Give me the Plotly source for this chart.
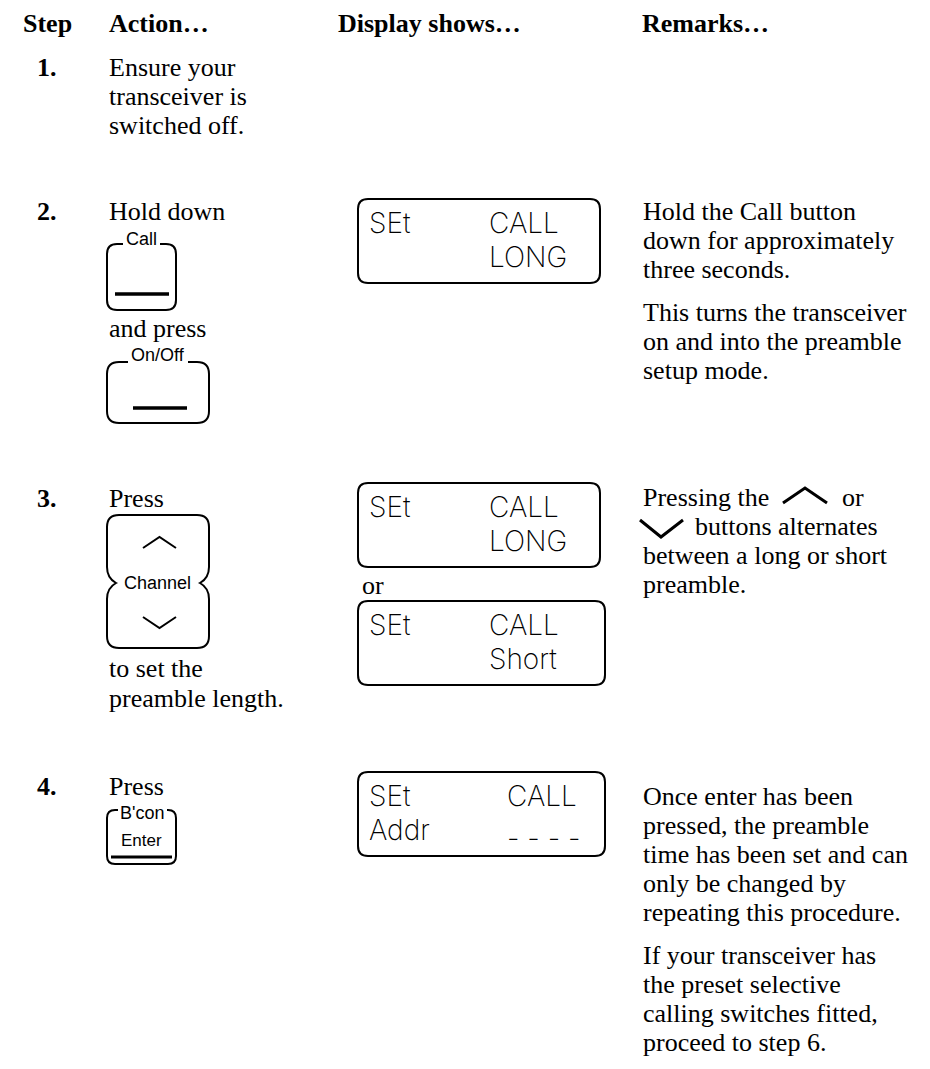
import plotly.graph_objects as go

W, H = 930, 1069
PAD = 8  # browser default body margin

# ---------------- content ----------------
headers = ["Step", "Action…", "Display shows…", "Remarks…"]
header_x = [21, 107, 336, 640]
header_y = 23

step_labels = ["1.", "2.", "3.", "4."]
step_y = [67, 211, 498, 786]

action_text = ["Ensure your", "transceiver is", "switched off.", "Hold down",
               "and press", "Press", "to set the", "preamble length.", "Press"]
action_y = [67, 96, 125, 211, 328, 498, 668, 698, 786]

remark_text = ["Hold the Call button", "down for approximately", "three seconds.",
               "This turns the transceiver", "on and into the preamble", "setup mode.",
               "Pressing the", "or", "buttons alternates", "between a long or short", "preamble.",
               "Once enter has been", "pressed, the preamble", "time has been set and can",
               "only be changed by", "repeating this procedure.",
               "If your transceiver has", "the preset selective",
               "calling switches fitted,", "proceed to step 6."]
remark_x = [641, 641, 641, 641, 641, 641,
            641, 840, 693, 641, 641,
            641, 641, 641, 641, 641,
            641, 641, 641, 641]
remark_y = [211, 240, 269, 312, 341, 370,
            497, 497, 526, 555, 584,
            796, 825, 854, 883, 912,
            955, 984, 1013, 1042]

# LCD displays
lcd_row1_left = ["SEt", "SEt", "SEt", "SEt"]
lcd_row1_right = ["CALL", "CALL", "CALL", "CALL"]
lcd_row2_left = ["", "", "", "Addr"]
lcd_row2_right = ["LONG", "LONG", "Short", "- - - -"]
lcd_top = [199, 483, 601, 772]
lcd_right = [600, 600, 605, 605]
lcd_right_x = [487, 487, 487, 505]

# Button labels
button_labels = ["Call", "On/Off", "Channel", "B'con", "Enter"]

# ---------------- helpers ----------------
BLACK = "#000000"
SERIF = "Liberation Serif"
SANS = "Liberation Sans"
LCD = "Inter"

shapes = []
annotations = []


def text(t, x, y, size=26, family=SERIF, bold=False, anchor="left", weight=None, color=BLACK):
    font = dict(family=family, size=size, color=color)
    if weight:
        font["weight"] = weight
    annotations.append(dict(
        text=(f"<b>{t}</b>" if bold else t), x=x, y=y, xref="x", yref="y",
        xanchor=anchor, yanchor="middle", showarrow=False, font=font))


def path(p, width=2.0):
    shapes.append(dict(type="path", path=p, xref="x", yref="y",
                       line=dict(color=BLACK, width=width)))


def rbox(x0, y0, x1, y1, r, gap=None, width=2.0):
    if gap:
        gl, gr = gap
        p = (f"M {gl},{y0} L {x0 + r},{y0} Q {x0},{y0} {x0},{y0 + r} "
             f"L {x0},{y1 - r} Q {x0},{y1} {x0 + r},{y1} L {x1 - r},{y1} "
             f"Q {x1},{y1} {x1},{y1 - r} L {x1},{y0 + r} Q {x1},{y0} {x1 - r},{y0} "
             f"L {gr},{y0}")
    else:
        p = (f"M {x0 + r},{y0} L {x1 - r},{y0} Q {x1},{y0} {x1},{y0 + r} "
             f"L {x1},{y1 - r} Q {x1},{y1} {x1 - r},{y1} L {x0 + r},{y1} "
             f"Q {x0},{y1} {x0},{y1 - r} L {x0},{y0 + r} Q {x0},{y0} {x0 + r},{y0} Z")
    path(p, width)


def lcd(t, x, y):
    text(t, x, y, size=28, family=LCD, weight=200)


# ---------------- header & steps ----------------
for t, x in zip(headers, header_x):
    text(t, x, header_y, bold=True)

for t, y in zip(step_labels, step_y):
    text(t, 35, y, bold=True)

for t, y in zip(action_text, action_y):
    text(t, 107, y)

for t, x, y in zip(remark_text, remark_x, remark_y):
    text(t, x, y)

# remark chevrons (step 3)
path("M 783,503 L 805,488 L 827,503", 3)
path("M 640,520 L 661,537 L 683,520", 3)

# ---------------- LCD displays ----------------
for i in range(4):
    top = lcd_top[i]
    rbox(358, top, lcd_right[i], top + 84, 10, width=2)
    lcd(lcd_row1_left[i], 367, top + 24)
    lcd(lcd_row1_right[i], lcd_right_x[i], top + 24)
    if lcd_row2_left[i]:
        lcd(lcd_row2_left[i], 367, top + 58)
    ry = top + 58 if not lcd_row2_right[i].startswith("-") else top + 66
    lcd(lcd_row2_right[i], lcd_right_x[i], ry)

text("or", 360, 585)

# ---------------- buttons ----------------
# Call
rbox(107, 244, 176, 310, 10, gap=(123, 160))
text(button_labels[0], 141.5, 239, size=18, family=SANS, anchor="center")
path("M 115,294 L 169,294", 3.5)
# On/Off
rbox(107, 362, 209, 423, 12, gap=(128, 188))
text(button_labels[1], 158, 355, size=18, family=SANS, anchor="center")
path("M 133,408 L 187,408", 3.5)
# Channel
x0, x1, y0, y1, ny = 107, 209, 515, 648, 583
ch = (f"M {x0 + 12},{y0} L {x1 - 12},{y0} Q {x1},{y0} {x1},{y0 + 12} "
      f"L {x1},{ny - 16} Q {x1},{ny - 5} {x1 - 9},{ny} Q {x1},{ny + 5} {x1},{ny + 16} "
      f"L {x1},{y1 - 12} Q {x1},{y1} {x1 - 12},{y1} L {x0 + 12},{y1} Q {x0},{y1} {x0},{y1 - 12} "
      f"L {x0},{ny + 16} Q {x0},{ny + 5} {x0 + 9},{ny} Q {x0},{ny - 5} {x0},{ny - 16} "
      f"L {x0},{y0 + 12} Q {x0},{y0} {x0 + 12},{y0} Z")
path(ch, 2)
text(button_labels[2], 157, ny, size=18, family=SANS, anchor="center")
path("M 143,548 L 159.5,537 L 176,548", 2)
path("M 143,617 L 159.5,628 L 176,617", 2)
# B'con / Enter
rbox(107, 810, 176, 864, 8, gap=(118, 167))
text(button_labels[3], 142, 813, size=18, family=SANS, anchor="center")
text(button_labels[4], 141.5, 840, size=17, family=SANS, anchor="center")
path("M 111,857 L 172,857", 3)

fig = go.Figure()
fig.update_layout(
    width=W - PAD, height=H - PAD,
    margin=dict(l=0, r=0, t=0, b=0),
    paper_bgcolor="white", plot_bgcolor="white",
    xaxis=dict(range=[PAD, W], visible=False, fixedrange=True),
    yaxis=dict(range=[H, PAD], visible=False, fixedrange=True),
    shapes=shapes, annotations=annotations, showlegend=False,
)
fig.write_html("out.html")
